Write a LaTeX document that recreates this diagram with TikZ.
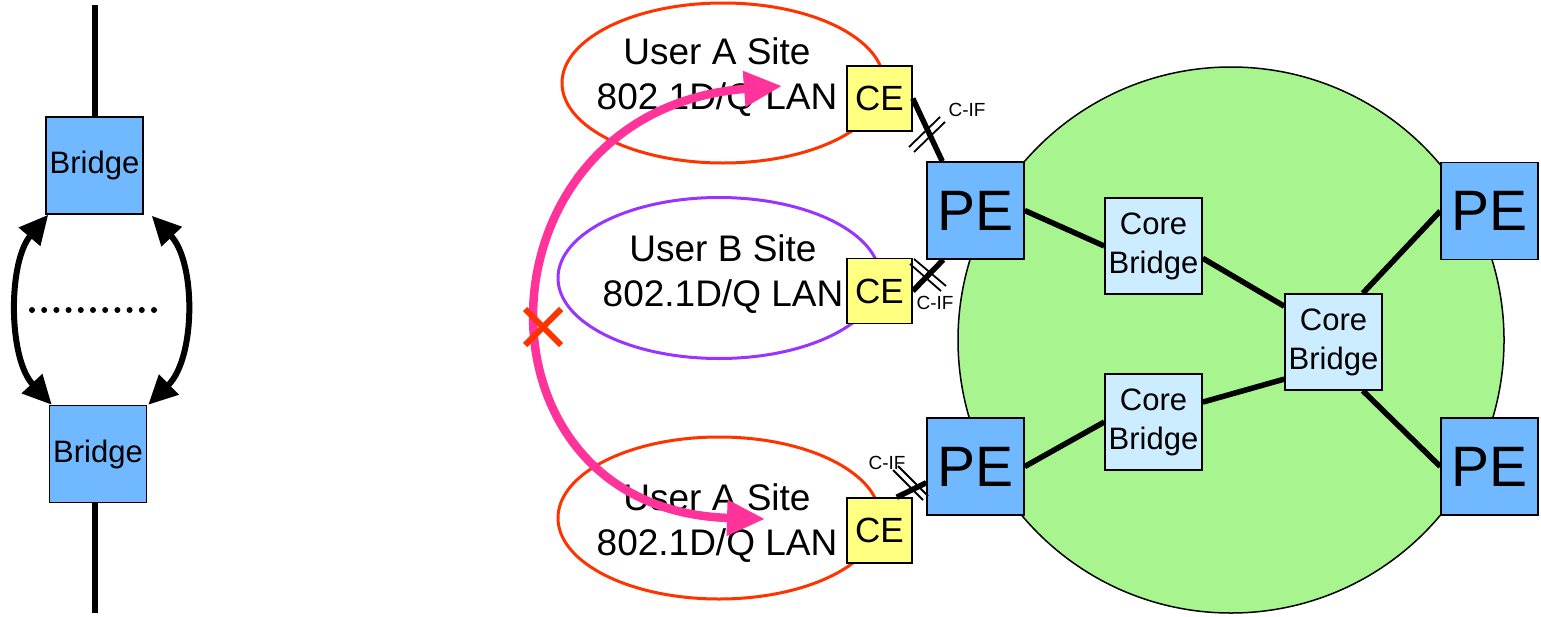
\documentclass[tikz,border=0pt]{standalone}
\usepackage{fontspec}
\setmainfont{Liberation Sans}
\usetikzlibrary{arrows.meta,shapes.geometric,calc}
\definecolor{peblue}{HTML}{70B8FF}
\definecolor{coreblue}{HTML}{CCECFF}
\definecolor{ceyellow}{HTML}{FFFF80}
\definecolor{cloudgreen}{HTML}{A8F590}
\definecolor{lanred}{HTML}{FF3300}
\definecolor{lanpurple}{HTML}{9933FF}
\definecolor{flowpink}{HTML}{FF3399}
\begin{document}
\begin{tikzpicture}[x=1pt,y=-1pt,
  box/.style={draw=black,line width=1.5pt,rectangle,inner sep=0pt,align=center},
  pebox/.style={box,fill=peblue,minimum width=97pt,minimum height=97pt,font=\fontsize{57}{60}\selectfont},
  brbox/.style={box,fill=peblue,minimum width=97pt,minimum height=97pt,font=\fontsize{31}{36}\selectfont},
  corebox/.style={box,fill=coreblue,minimum width=97pt,minimum height=96pt,font=\fontsize{31}{39}\selectfont},
  cebox/.style={box,fill=ceyellow,minimum width=65pt,minimum height=65pt,font=\fontsize{35}{40}\selectfont},
  lan/.style={ellipse,line width=3pt,inner sep=0pt,minimum width=322pt,minimum height=160pt},
  lantext/.style={align=center,inner sep=0pt,font=\fontsize{37}{45}\selectfont},
  ciflabel/.style={inner sep=0pt,font=\fontsize{19}{22}\selectfont},
  link/.style={line width=5.5pt},
  slash/.style={line width=1.8pt},
  loop/.style={line width=6pt,{Triangle[length=29pt,width=27pt]}-{Triangle[length=29pt,width=27pt]}},
  flow/.style={draw=flowpink,line width=8.5pt,{Triangle[length=38pt,width=34pt]}-{Triangle[length=38pt,width=34pt]}}
]
\useasboundingbox (0,0) rectangle (1541,616);

% ---------------- left part ----------------
\coordinate (vtop) at (95,5);
\coordinate (vbot) at (95,613);
\node[brbox] (b1) at (94.5,165.5) {Bridge};
\node[brbox] (b2) at (98,454) {Bridge};
\draw[line width=5.5pt] (vtop) -- (b1.north -| vtop);
\draw[line width=5.5pt] (b2.south -| vbot) -- (vbot);
\draw[loop] ($(b1.south west)+(3,0)$) .. controls (8,262) and (8,358) .. ($(b2.north west)+(3,0)$);
\draw[loop] ($(b1.south east)+(8,1)$) .. controls (196,262) and (196,358) .. ($(b2.north east)+(1,0)$);
\coordinate (d1) at (32,310);
\coordinate (d2) at (157,310);
\draw[line width=6pt,line cap=round,dash pattern=on 0pt off 12.2pt] (d1) -- (d2);

% ---------------- provider network ----------------
\node[circle,draw=black,line width=1.5pt,fill=cloudgreen,minimum size=546pt,inner sep=0pt] (cloud) at (1231,340) {};

\node[lan,draw=lanred] (lana1) at (723,83) {};
\node[lan,draw=lanpurple,minimum height=161pt] (lanb) at (719,278) {};
\node[lan,draw=lanred,minimum height=162pt] (lana2) at (719,518) {};

\node[lantext] (ta1) at (717,77) {User A Site\\802.1D/Q LAN};
\node[lantext] (tb) at (723,274) {User B Site\\802.1D/Q LAN};
\node[lantext] (ta2) at (717,523) {User A Site\\802.1D/Q LAN};

\node[pebox] (pe1) at (975.5,210.5) {PE};
\node[pebox] (pe3) at (975.5,466.5) {PE};
\node[pebox] (pe2) at (1489.5,211) {PE};
\node[pebox] (pe4) at (1489.5,466.5) {PE};

\node[corebox] (cb1) at (1153.5,246) {Core\\Bridge};
\node[corebox] (cb2) at (1333.5,342) {Core\\Bridge};
\node[corebox] (cb3) at (1153.5,422) {Core\\Bridge};

% core links
\draw[link] (pe1.east) -- (cb1.west);
\draw[link] (cb1.-14) -- (cb2.144);
\draw[link] (cb2.59) -- (pe2.west);
\draw[link] (cb3.22) -- (cb2.-143);
\draw[link] (cb3.west) -- (pe3.east);
\draw[link] (cb2.-59) -- (pe4.west);

% access links
\node[cebox] (ce1) at (879.5,98.5) {CE};
\node[cebox] (ce2) at (879.5,291) {CE};
\node[cebox] (ce3) at (879.5,530.5) {CE};

\draw[link] (ce1.east) -- ($(pe1.north west)+(16,0)$);
\draw[link] (ce2.east) -- ($(pe1.south west)+(17,0)$);
\draw[link] ($(ce3.north east)+(-16,0)$) -- ($(pe3.south west)+(0,-33)$);

% C-IF marks
\coordinate (s1a) at (909,147); \coordinate (s1b) at (940,117);
\coordinate (s1c) at (914,152); \coordinate (s1d) at (945,122);
\draw[slash] (s1a) -- (s1b);
\draw[slash] (s1c) -- (s1d);
\coordinate (s2a) at (910,264); \coordinate (s2b) at (941,291);
\coordinate (s2c) at (914,259); \coordinate (s2d) at (946,286);
\draw[slash] (s2a) -- (s2b);
\draw[slash] (s2c) -- (s2d);
\coordinate (s3a) at (893,470); \coordinate (s3b) at (923,500);
\coordinate (s3c) at (898,466); \coordinate (s3d) at (928,496);
\draw[slash] (s3a) -- (s3b);
\draw[slash] (s3c) -- (s3d);
\node[ciflabel] (cif1) at (967,110) {C-IF};
\node[ciflabel] (cif2) at (935,303) {C-IF};
\node[ciflabel] (cif3) at (887,463) {C-IF};

% traffic flow
\coordinate (fa) at (782,86);
\coordinate (fb) at (765,519);
\draw[flow] (fa) .. controls (470,110) and (460,510) .. (fb);
\coordinate (xa) at (525,309); \coordinate (xb) at (561,345);
\coordinate (xc) at (525,345); \coordinate (xd) at (561,309);
\draw[draw=lanred,line width=6pt] (xa) -- (xb);
\draw[draw=lanred,line width=6pt] (xc) -- (xd);
\end{tikzpicture}
\end{document}
